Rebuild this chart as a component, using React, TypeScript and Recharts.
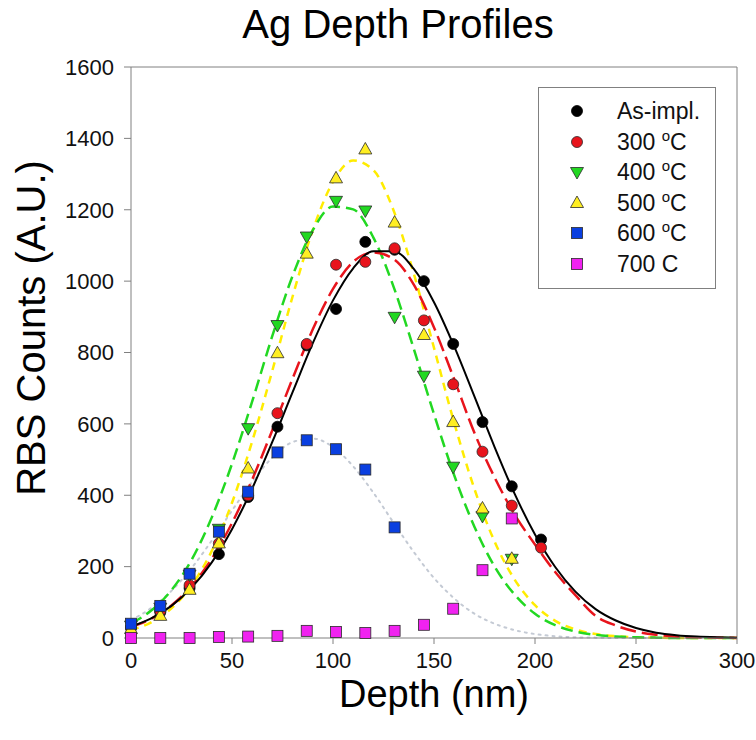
import React from 'react';
import { ComposedChart, Line, Scatter, XAxis, YAxis, ReferenceLine, Label } from 'recharts';

// measured depths of the RBS data points (nm)
const depth = [0, 14.5, 29, 43.5, 58, 72.5, 87, 101.5, 116, 130.5, 145, 159.5, 174, 188.5, 203];

const asImpl = [30, 72, 140, 235, 395, 592, 820, 922, 1110, 1088, 1000, 824, 605, 425, 276];
const c300 = [28, 76, 148, 265, 400, 630, 824, 1046, 1054, 1092, 890, 711, 522, 371, 253];
const c400 = [35, 85, 178, 306, 588, 877, 1125, 1225, 1198, 900, 735, 480, 342, 222];
const c500 = [25, 62, 135, 265, 475, 798, 1077, 1288, 1369, 1164, 849, 605, 363, 222];
const c600 = [40, 90, 180, 298, 410, 520, 554, 529, 472, 310];
const c700 = [0, 0, 0, 3, 4, 6, 20, 17, 14, 20, 37, 82, 190, 335];

// fitted profiles, read every 10 nm
const curveDepth = [0, 10, 20, 30, 40, 50, 60, 70, 80, 90, 100, 110, 120, 130, 140, 150, 160, 170, 180, 190, 200, 210, 220, 230, 240, 250, 260, 270, 280, 290, 300];
const fitAsImpl = [32, 55, 90, 141, 212, 305, 419, 550, 689, 826, 946, 1036, 1084, 1084, 1034, 941, 817, 677, 535, 403, 290, 199, 130, 81, 49, 28, 15, 8, 4, 2, 1];
const fit300 = [31, 54, 91, 146, 222, 322, 444, 583, 727, 865, 978, 1054, 1080, 1062, 990, 870, 725, 575, 450, 345, 262, 185, 120, 62, 35, 18, 9, 4, 2, 1, 0];
const fit400 = [41, 77, 134, 219, 338, 488, 663, 847, 1015, 1143, 1209, 1201, 1122, 984, 810, 627, 456, 312, 200, 121, 68, 36, 18, 9, 4, 2, 1, 0, 0, 0, 0];
const fit500 = [22, 44, 83, 147, 244, 379, 551, 750, 957, 1143, 1278, 1338, 1311, 1198, 1021, 813, 603, 418, 270, 163, 92, 48, 24, 11, 5, 2, 1, 0, 0, 0, 0];
const fit600 = [50, 84, 132, 196, 273, 357, 438, 506, 549, 559, 535, 481, 407, 323, 241, 168, 111, 68, 40, 22, 11, 5, 2, 1, 0, 0, 0, 0, 0, 0, 0];

const xTicks = [0, 50, 100, 150, 200, 250, 300];
const yTicks = [0, 200, 400, 600, 800, 1000, 1200, 1400, 1600];

const legendLabels = ['As-impl.', '300', '400', '500', '600', '700 C'];

const FONT = '"Liberation Sans", Arial, Helvetica, sans-serif';
const AXIS = '#808080';
const OUTLINE = '#2a2a2a';

const pts = (vals: number[]) => vals.map((y, i) => ({ x: depth[i], y }));
const curve = (vals: number[]) => vals.map((y, i) => ({ x: curveDepth[i], y }));

const circle = (fill: string, stroke: string) => (p: any) => (
  <circle cx={p.cx} cy={p.cy} r={5.5} fill={fill} stroke={stroke} strokeWidth={0.8} />
);
const square = (fill: string) => (p: any) => (
  <rect x={p.cx - 5.5} y={p.cy - 5.5} width={11} height={11} fill={fill} stroke={OUTLINE} strokeWidth={0.8} />
);
const triUp = (fill: string) => (p: any) => (
  <polygon
    points={`${p.cx},${p.cy - 7} ${p.cx - 6.5},${p.cy + 4.5} ${p.cx + 6.5},${p.cy + 4.5}`}
    fill={fill}
    stroke={OUTLINE}
    strokeWidth={0.8}
  />
);
const triDown = (fill: string) => (p: any) => (
  <polygon
    points={`${p.cx},${p.cy + 7} ${p.cx - 6.5},${p.cy - 4.5} ${p.cx + 6.5},${p.cy - 4.5}`}
    fill={fill}
    stroke={OUTLINE}
    strokeWidth={0.8}
  />
);

const RED = '#e8141c';
const GREEN = '#22d822';
const YELLOW = '#ffee22';
const BLUE = '#0a3fe0';
const PINK = '#f022f0';

const markers = [
  circle('#000000', '#000000'),
  circle(RED, OUTLINE),
  triDown(GREEN),
  triUp(YELLOW),
  square(BLUE),
  square(PINK),
];

const LegendBox = () => (
  <div
    style={{
      position: 'absolute',
      left: 538,
      top: 87,
      width: 176,
      height: 200,
      border: `1px solid ${AXIS}`,
      background: '#fff',
      fontFamily: FONT,
      fontSize: 23,
      color: '#111',
    }}
  >
    {legendLabels.map((lab, i) => {
      const cy = 23 + i * 30.6;
      const Shape = markers[i];
      return (
        <React.Fragment key={lab}>
          <svg width={16} height={16} style={{ position: 'absolute', left: 30, top: cy - 8 }}>
            <Shape cx={8} cy={8} />
          </svg>
          <span style={{ position: 'absolute', left: 78, top: cy - 13, lineHeight: '26px', whiteSpace: 'nowrap' }}>
            {i === 0 || i === 5 ? (
              lab
            ) : (
              <>
                {lab} <sup style={{ fontSize: 15, verticalAlign: 0, position: 'relative', top: -9 }}>o</sup>C
              </>
            )}
          </span>
        </React.Fragment>
      );
    })}
  </div>
);

const YTitle = () => (
  <text
    x={31}
    y={328}
    dy="0.36em"
    transform="rotate(-90 31 328)"
    textAnchor="middle"
    fontSize={40}
    fontFamily={FONT}
    fill="#000"
  >
    RBS Counts (A.U.)
  </text>
);

export default function App() {
  return (
    <div style={{ position: 'absolute', left: 0, top: 0, width: 756, height: 740, background: '#fff', fontFamily: FONT }}>
      <div
        style={{
          position: 'absolute',
          left: 198,
          width: 400,
          top: 4,
          textAlign: 'center',
          fontSize: 40,
          lineHeight: '40px',
          color: '#000',
        }}
      >
        Ag Depth Profiles
      </div>
      <ComposedChart width={756} height={740} margin={{ top: 67, right: 19, bottom: 22, left: 12 }}>
        <XAxis
          type="number"
          dataKey="x"
          domain={[0, 300]}
          ticks={xTicks}
          interval={0}
          height={80}
          stroke={AXIS}
          tickSize={6}
          tickMargin={8}
          tick={{ fill: '#111', fontSize: 22, fontFamily: FONT }}
        >
          <Label value="Depth (nm)" position="insideBottom" offset={11} style={{ fontSize: 38, fill: '#000', fontFamily: FONT }} />
        </XAxis>
        <YAxis
          type="number"
          dataKey="y"
          domain={[0, 1600]}
          ticks={yTicks}
          interval={0}
          width={119}
          stroke={AXIS}
          tickSize={7}
          tickMargin={10}
          tick={{ fill: '#111', fontSize: 22, fontFamily: FONT }}
        >
          <Label content={() => <YTitle />} />
        </YAxis>
        <ReferenceLine y={1600} stroke={AXIS} strokeWidth={1} />
        <ReferenceLine x={300} stroke={AXIS} strokeWidth={1} />

        <Line data={curve(fit600)} dataKey="y" type="monotone" stroke="#c4cad4" strokeWidth={2} strokeDasharray="2 5" strokeLinecap="round" dot={false} activeDot={false} isAnimationActive={false} />
        <Line data={curve(fit500)} dataKey="y" type="monotone" stroke="#ffec00" strokeWidth={2.5} strokeDasharray="8 6" dot={false} activeDot={false} isAnimationActive={false} />
        <Line data={curve(fit400)} dataKey="y" type="monotone" stroke={GREEN} strokeWidth={2.5} strokeDasharray="12 6" dot={false} activeDot={false} isAnimationActive={false} />
        <Line data={curve(fit300)} dataKey="y" type="monotone" stroke={RED} strokeWidth={2.5} strokeDasharray="16 6" dot={false} activeDot={false} isAnimationActive={false} />
        <Line data={curve(fitAsImpl)} dataKey="y" type="monotone" stroke="#000" strokeWidth={2} dot={false} activeDot={false} isAnimationActive={false} />

        <Scatter data={pts(asImpl)} dataKey="y" shape={markers[0]} isAnimationActive={false} />
        <Scatter data={pts(c300)} dataKey="y" shape={markers[1]} isAnimationActive={false} />
        <Scatter data={pts(c400)} dataKey="y" shape={markers[2]} isAnimationActive={false} />
        <Scatter data={pts(c500)} dataKey="y" shape={markers[3]} isAnimationActive={false} />
        <Scatter data={pts(c600)} dataKey="y" shape={markers[4]} isAnimationActive={false} />
        <Scatter data={pts(c700)} dataKey="y" shape={markers[5]} isAnimationActive={false} />
      </ComposedChart>
      <LegendBox />
    </div>
  );
}
